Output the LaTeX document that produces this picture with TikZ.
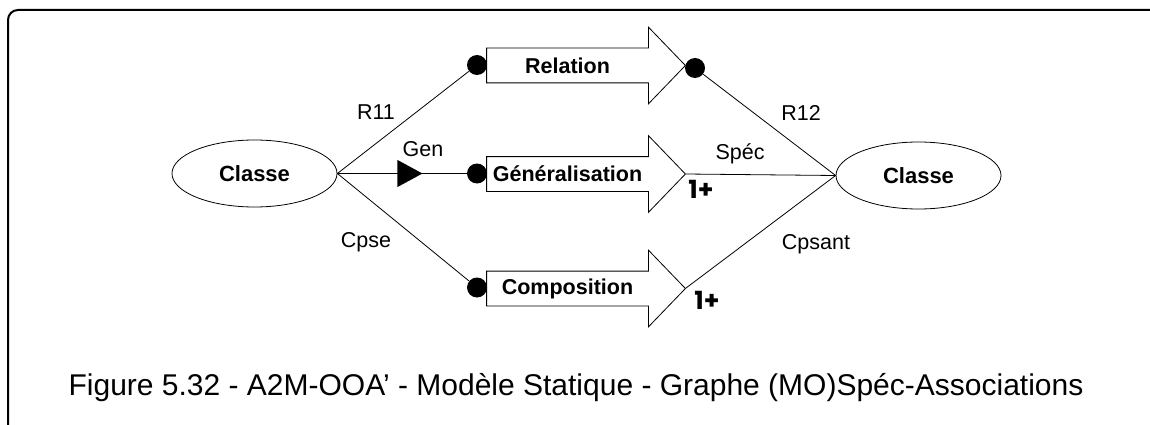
\documentclass[tikz,border=0pt]{standalone}
\usepackage{fontspec}
\setmainfont{Liberation Sans}
\newfontfamily\multfont{Poppins}
\usetikzlibrary{arrows.meta,positioning,shapes.geometric,calc}

\begin{document}
\begin{tikzpicture}[x=1pt,y=-1pt,line width=0.8pt,
cls/.style={ellipse,draw,minimum width=165pt,minimum height=67pt,inner sep=0pt,font=\fontsize{22}{24}\selectfont\bfseries},
blk/.style={rectangle,minimum width=161pt,minimum height=34pt,inner sep=0pt,
  font=\fontsize{21.5}{24}\selectfont\bfseries},
dot/.style={circle,fill=black,minimum size=20pt,inner sep=0pt},
lbl/.style={font=\fontsize{21.5}{24}\selectfont,inner sep=0pt},
mult/.style={font=\multfont\fontsize{25}{28}\selectfont\bfseries,inner sep=0pt}]
\useasboundingbox (0,0) rectangle (1150,425);
% frame
\draw[line width=2pt,rounded corners=10pt] (1152,10) -- (8,10) -- (8,430);
% classes
\node[cls] (cl) at (254.5,173.5) {Classe};
\node[cls] (cr) at (918.5,175.5) {Classe};
% associations (block arrows)
\node[blk] (rel) at (567.5,65.5) {Relation};
\node[blk] (gen) at (567.5,174) {Généralisation};
\node[blk] (cps) at (567.5,288.5) {Composition};
\coordinate (reltip) at ([xshift=37pt]rel.east);
\coordinate (gentip) at ([xshift=37pt]gen.east);
\coordinate (cpstip) at ([xshift=37pt]cps.east);
\foreach \n in {rel,gen,cps}
  \draw (\n.north west) -- (\n.north east) -- ([yshift=21pt]\n.north east)
    -- (\n tip) -- ([yshift=-21pt]\n.south east) -- (\n.south east)
    -- (\n.south west) -- cycle;
\node[dot] (d1) at (477,65) {};
\node[dot] (d2) at (477,173.5) {};
\node[dot] (d3) at (477,287.5) {};
\node[dot] (d4) at (695,68) {};
\node[isosceles triangle,isosceles triangle apex angle=57,fill=black,inner sep=0pt,
  minimum height=25pt] (tg) at (405.5,173.5) {};
\draw (cl.east) -- (d1);
\draw (cl.east) -- (d2);
\draw (cl.east) -- (d3);
\draw (reltip) -- (d4) -- (cr.west);
\draw (gentip) -- (cr.west);
\draw (cpstip) -- (cr.west);
% labels
\node[lbl] (r11) at (376,112) {R11};
\node[lbl] (gn) at (423,149) {Gen};
\node[lbl] (cpse) at (366,242) {Cpse};
\node[lbl] (r12) at (801,113) {R12};
\node[lbl] (spec) at (740,154) {Spéc};
\node[lbl] (cpsant) at (816,244) {Cpsant};
\node[mult] (m1) at (701,189) {1+};
\node[mult] (m2) at (707,300) {1+};
% caption
\node[font=\fontsize{30}{33}\selectfont,inner sep=0pt] (cap) at (576,388)
  {Figure 5.32 - A2M-OOA’ - Modèle Statique - Graphe (MO)Spéc-Associations};
\end{tikzpicture}
\end{document}
